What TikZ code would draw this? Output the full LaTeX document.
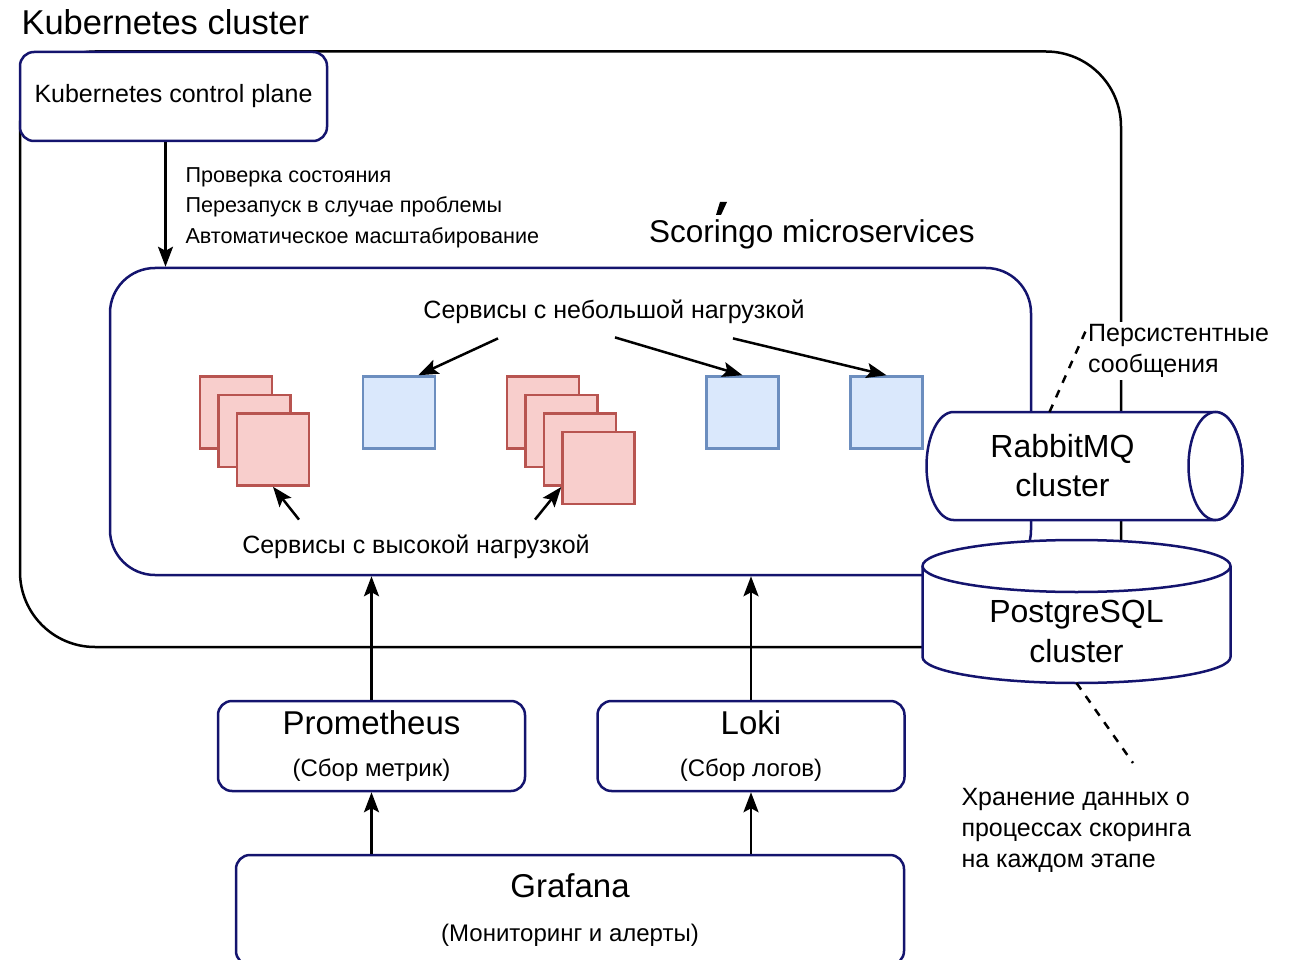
\documentclass[tikz,border=0pt]{standalone}
\usepackage{fontspec}
\setmainfont{Liberation Sans}
\usetikzlibrary{arrows.meta,positioning}
\definecolor{navy}{RGB}{20,20,110}
\definecolor{redfill}{HTML}{F8CECC}
\definecolor{redline}{HTML}{B85450}
\definecolor{bluefill}{HTML}{DAE8FC}
\definecolor{blueline}{HTML}{6C8EBF}
\newcommand{\fsz}[2]{\fontsize{#1}{#2}\selectfont}
\tikzset{
  box/.style={draw=navy,line width=2.5pt,fill=white,rounded corners=14pt,align=center},
  hibox/.style={draw=redline,fill=redfill,line width=2.5pt,minimum size=72pt,inner sep=0pt},
  lobox/.style={draw=blueline,fill=bluefill,line width=2.5pt,minimum size=72pt,inner sep=0pt},
  arr/.style={line width=2.5pt,-{Stealth[length=20pt,width=15pt,inset=4pt]}},
  note/.style={dash pattern=on 8pt off 8pt,line width=2.5pt},
  dbline/.style={draw=navy,fill=white,line width=2.5pt},
  dbarea/.style={inner sep=0pt,outer sep=0pt},
}
\begin{document}
\begin{tikzpicture}[x=1pt,y=-1pt]
\useasboundingbox (0,0) rectangle (1299,960);

    % Kubernetes cluster
    \draw[line width=2.5pt,rounded corners=75pt] (20,51.5) rectangle (1121,647);
    \node[anchor=west,font=\fsz{34.5}{40}] (k8s) at (18,22) {Kubernetes cluster};

    % microservices
    \node[box,rounded corners=45pt,minimum width=921pt,minimum height=307pt] (ms) at (570.5,421.5) {};
    \node[font=\fsz{31.5}{36}] (mslbl) at (812,234) {Scoringo microservices};
    \fill (720,202) -- (727,202) -- (721,215) -- (716,215) -- cycle;

    % control plane
    \node[box,minimum width=307pt,minimum height=89pt,font=\fsz{25}{30}] (cp) at (173.5,96.5) {Kubernetes control plane};
    \node[anchor=west,align=left,font=\fsz{21.6}{30.5}] (cplbl) at (182,207.5) {Проверка состояния\\Перезапуск в случае проблемы\\Автоматическое масштабирование};
    \draw[arr] ([xshift=-8pt]cp.south) -- ([xshift=-8pt]cp.south |- ms.north);

    % services
    \node[font=\fsz{25}{30}] (lolbl) at (614,312) {Сервисы с небольшой нагрузкой};
    \foreach \n/\x in {1/399,2/742.5,3/886.5}
        \node[lobox] (lo\n) at (\x,412.5) {};
    \foreach \i in {0,1,2}
        \node[hibox] (hia\i) at (236+18.5*\i,412.5+18.5*\i) {};
    \foreach \i in {0,...,3}
        \node[hibox] (hib\i) at (543+18.5*\i,412.5+18.5*\i) {};
    \node[font=\fsz{25}{30}] (hilbl) at (416,547) {Сервисы с высокой нагрузкой};

    \draw[arr] ([shift={(-116,11)}]lolbl.south) -- ([xshift=-18pt]lo1.north east);
    \draw[arr] ([shift={(1,10)}]lolbl.south) -- (lo2.north);
    \draw[arr] ([shift={(119,11)}]lolbl.south) -- (lo3.north);
    \draw[arr] ([shift={(-117,-12)}]hilbl.north) -- (hia2.south);
    \draw[arr] ([shift={(119,-12)}]hilbl.north) -- ([yshift=-19pt]hib3.west);

    % monitoring
    \node[box,minimum width=307pt,minimum height=90pt,font=\fsz{24}{42}] (prom) at (371.5,746) {{\fsz{33}{42}Prometheus}\\(Сбор метрик)};
    \node[box,minimum width=307pt,minimum height=90pt,font=\fsz{24}{42}] (loki) at (751,746) {{\fsz{33}{42}Loki}\\(Сбор логов)};
    \node[box,minimum width=668pt,minimum height=110pt,font=\fsz{24}{44}] (graf) at (570,910) {{\fsz{33}{44}Grafana}\\(Мониторинг и алерты)};
    \draw[arr] (prom.north) -- (prom.north |- ms.south);
    \draw[arr] (loki.north) -- (loki.north |- ms.south);
    \draw[arr] (prom.south |- graf.north) -- (prom.south);
    \draw[arr] (loki.south |- graf.north) -- (loki.south);

    % storage
    \node[anchor=west,align=left,fill=white,inner sep=2pt,font=\fsz{25}{31}] (pers) at (1086,351) {Персистентные\\сообщения};

    \node[dbarea,minimum width=316pt,minimum height=108pt] (rmq) at (1084.5,466) {};
    \draw[dbline] ([xshift=27pt]rmq.north west) -- ([xshift=-27pt]rmq.north east)
        arc[start angle=90,end angle=-90,x radius=27pt,y radius=54pt]
        -- ([xshift=27pt]rmq.south west)
        arc[start angle=270,end angle=90,x radius=27pt,y radius=54pt] -- cycle;
    \draw[dbline] ([xshift=-27pt]rmq.east) ellipse [x radius=27pt,y radius=54pt];
    \node[align=center,font=\fsz{32}{39}] (rmqlbl) at ([xshift=-22pt]rmq.center) {RabbitMQ\\cluster};

    \node[dbarea,minimum width=308pt,minimum height=143pt] (pg) at (1076.5,611.5) {};
    \draw[dbline] ([yshift=-26pt]pg.north west) -- ([yshift=26pt]pg.south west)
        arc[start angle=180,end angle=360,x radius=154pt,y radius=26pt]
        -- ([yshift=-26pt]pg.north east)
        arc[start angle=0,end angle=180,x radius=154pt,y radius=26pt] -- cycle;
    \draw[navy,line width=2.5pt] ([yshift=-26pt]pg.north west)
        arc[start angle=180,end angle=360,x radius=154pt,y radius=26pt];
    \node[align=center,font=\fsz{32}{40}] (pglbl) at ([yshift=-20pt]pg.center) {PostgreSQL\\cluster};

    \draw[note] ([xshift=-35pt]rmq.north) -- ([yshift=-8pt]pers.north west);

    \node[anchor=north west,align=left,font=\fsz{25}{31}] (store) at (958,785) {Хранение данных о\\процессах скоринга\\на каждом этапе};
    \coordinate (pgend) at (1133,763);
    \draw[note] (pg.south) -- (pgend);
\end{tikzpicture}
\end{document}
